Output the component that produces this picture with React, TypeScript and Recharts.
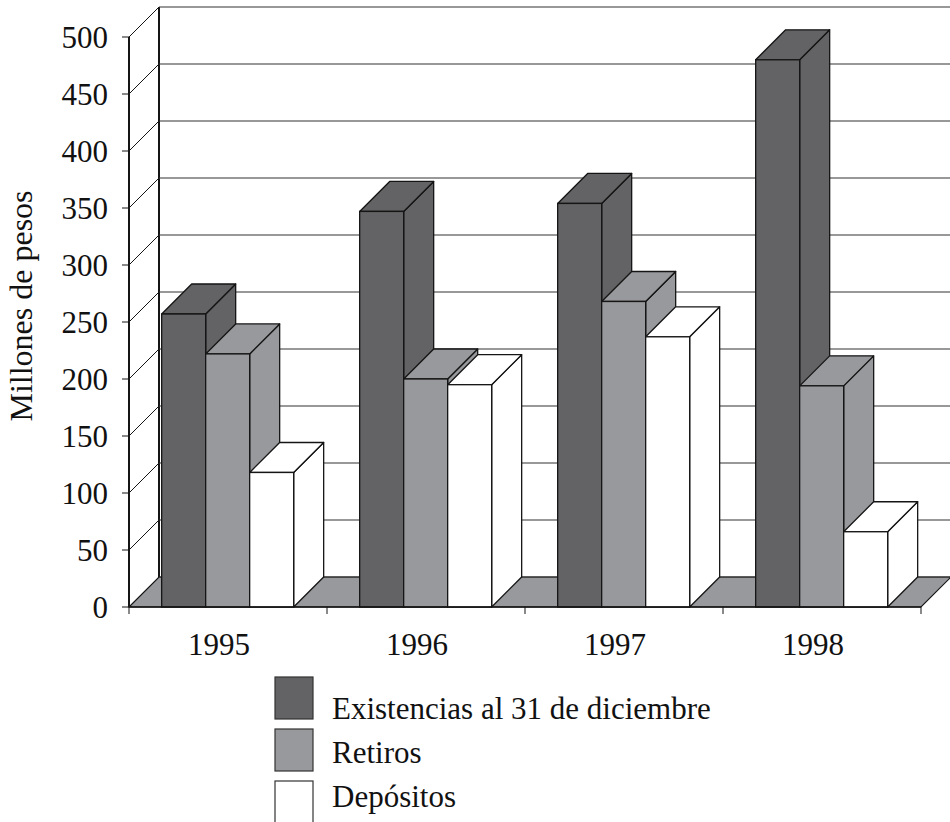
import { BarChart, Bar, XAxis, YAxis, CartesianGrid } from 'recharts';

const CATEGORIES = ['1995', '1996', '1997', '1998'];
const EXISTENCIAS = [257, 347, 354, 480];
const RETIROS = [222, 200, 268, 194];
const DEPOSITOS = [118, 195, 237, 66];
const Y_TICKS = [0, 50, 100, 150, 200, 250, 300, 350, 400, 450, 500];

const SERIES = [
  { key: 'existencias', name: 'Existencias al 31 de diciembre', color: '#636365' },
  { key: 'retiros', name: 'Retiros', color: '#98999c' },
  { key: 'depositos', name: 'Depósitos', color: '#ffffff' },
];

const data = CATEGORIES.map((year, i) => ({
  year,
  existencias: EXISTENCIAS[i],
  retiros: RETIROS[i],
  depositos: DEPOSITOS[i],
}));

const FONT = '"Liberation Serif", "Times New Roman", serif';
const CHART_W = 950;
const CHART_H = 680;
const MARGIN = { top: 37, right: 29, bottom: 13, left: 69 };
const X_AXIS_H = 60;
const PLOT_BOTTOM = CHART_H - MARGIN.bottom - X_AXIS_H;
const DEPTH = 30;
const EDGE = '#151515';

// back wall + left wall lines, floor on the zero line
function GridLine(props: any) {
  const { x1, y1, x2, index } = props;
  const isFloor = Math.abs(y1 - PLOT_BOTTOM) < 1;
  return (
    <g key={`grid-${index}`}>
      {isFloor && (
        <>
          <polygon
            points={`${x1},${y1} ${x1 + DEPTH},${y1 - DEPTH} ${x2 + DEPTH},${y1 - DEPTH} ${x2},${y1}`}
            fill="#98999c"
            stroke={EDGE}
            strokeWidth={1.2}
          />
          <line x1={x1 + DEPTH} y1={y1 - DEPTH} x2={x1 + DEPTH} y2={MARGIN.top - DEPTH} stroke={EDGE} strokeWidth={2} />
        </>
      )}
      <line x1={x1} y1={y1} x2={x1 + DEPTH} y2={y1 - DEPTH} stroke={EDGE} strokeWidth={1} />
      <line x1={x1 + DEPTH} y1={y1 - DEPTH} x2={x2 + DEPTH} y2={y1 - DEPTH} stroke="#333" strokeWidth={1.2} />
    </g>
  );
}

function Bar3D(props: any) {
  const { x, y, width, height, fill } = props;
  if (!height || height <= 0) return null;
  const top = `${x},${y} ${x + DEPTH},${y - DEPTH} ${x + width + DEPTH},${y - DEPTH} ${x + width},${y}`;
  const side = `${x + width},${y} ${x + width + DEPTH},${y - DEPTH} ${x + width + DEPTH},${y + height - DEPTH} ${x + width},${y + height}`;
  return (
    <g>
      <polygon points={side} fill={fill} stroke={EDGE} strokeWidth={1.3} strokeLinejoin="round" />
      <polygon points={top} fill={fill} stroke={EDGE} strokeWidth={1.3} strokeLinejoin="round" />
      <rect x={x} y={y} width={width} height={height} fill={fill} stroke={EDGE} strokeWidth={1.3} />
    </g>
  );
}

function YearTick(props: any) {
  const { x, y, payload, index } = props;
  const half = payload && payload.offset ? payload.offset : 99;
  const last = index === CATEGORIES.length - 1;
  return (
    <g>
      <line x1={x - half} y1={y - 7} x2={x - half} y2={y} stroke={EDGE} strokeWidth={1} />
      {last && <line x1={x + half} y1={y - 7} x2={x + half} y2={y} stroke={EDGE} strokeWidth={1} />}
      <text x={x - 9} y={y + 41} textAnchor="middle" fontSize={31} fontFamily={FONT} fill="#111">
        {payload.value}
      </text>
    </g>
  );
}

function YLabel(props: any) {
  const { viewBox } = props;
  const cx = viewBox.x - 37;
  const cy = viewBox.y + viewBox.height / 2 - 16;
  return (
    <text
      x={cx}
      y={cy}
      transform={`rotate(-90, ${cx}, ${cy})`}
      textAnchor="middle"
      fontSize={32}
      fontFamily={FONT}
      fill="#111"
    >
      Millones de pesos
    </text>
  );
}

function Legend3D() {
  return (
    <svg width={950} height={162} style={{ position: 'absolute', left: 0, top: 660 }}>
      {SERIES.map((s, i) => (
        <g key={s.key}>
          <rect x={275} y={17 + i * 52} width={38} height={42} fill={s.color} stroke="#333" strokeWidth={1.2} />
          <text x={332} y={59 + i * 44} fontSize={31} fontFamily={FONT} fill="#111">
            {s.name}
          </text>
        </g>
      ))}
    </svg>
  );
}

export default function App() {
  return (
    <div style={{ position: 'absolute', left: 0, top: 0, width: 950, height: 822, background: '#fff' }}>
      <BarChart width={CHART_W} height={CHART_H} data={data} margin={MARGIN} barCategoryGap="16.5%" barGap={0}>
        <CartesianGrid horizontal={GridLine} vertical={false} />
        <XAxis
          dataKey="year"
          height={X_AXIS_H}
          axisLine={{ stroke: EDGE, strokeWidth: 1.5 }}
          tickLine={false}
          tickSize={7}
          tickMargin={0}
          tick={YearTick}
          interval={0}
        />
        <YAxis
          width={60}
          domain={[0, 500]}
          ticks={Y_TICKS}
          interval={0}
          axisLine={{ stroke: EDGE, strokeWidth: 2 }}
          tickLine={{ stroke: EDGE }}
          tickSize={7}
          tickMargin={14}
          tick={{ fontSize: 31, fontFamily: FONT, fill: '#111' }}
          label={<YLabel />}
        />
        {SERIES.map((s) => (
          <Bar key={s.key} dataKey={s.key} name={s.name} fill={s.color} shape={Bar3D} isAnimationActive={false} />
        ))}
      </BarChart>
      <Legend3D />
    </div>
  );
}
